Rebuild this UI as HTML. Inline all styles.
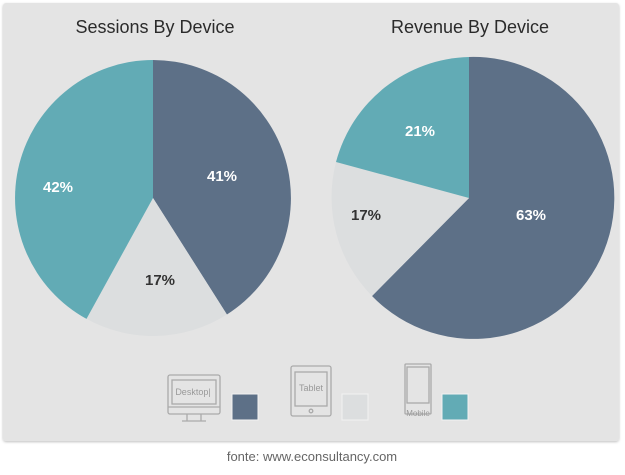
<!DOCTYPE html>
<html><head><meta charset="utf-8"><style>
body{margin:0;width:625px;height:470px;background:#fff;overflow:hidden;font-family:"Liberation Sans",sans-serif}
</style></head><body>
<svg width="625" height="470" xmlns="http://www.w3.org/2000/svg">
<defs><filter id="s" x="-5%" y="-5%" width="110%" height="110%"><feDropShadow dx="0" dy="1" stdDeviation="1.2" flood-color="#000" flood-opacity="0.25"/></filter></defs>
<rect x="3" y="3" width="616" height="438" rx="3" fill="#e4e4e4" filter="url(#s)"/>
<g font-family="'Gill Sans','Liberation Sans',sans-serif" fill="#2b2b2b" font-size="18" text-anchor="middle">
<text x="155" y="33">Sessions By Device</text>
<text x="470" y="33">Revenue By Device</text>
</g>
<path d="M153 198 L153 60 A138 138 0 0 1 226.9 314.5 Z" fill="#5d7087"/>
<path d="M153 198 L226.9 314.5 A138 138 0 0 1 86.5 318.9 Z" fill="#dcdedf"/>
<path d="M153 198 L86.5 318.9 A138 138 0 0 1 153 60 Z" fill="#62abb5"/>
<path d="M469 198 L469 57 A141 141 0 1 1 372 296 Z" fill="#5d7087"/>
<path d="M469 198 L372 296 A141 141 0 0 1 336 162 Z" fill="#dcdedf"/>
<path d="M469 198 L336 162 A141 141 0 0 1 469 57 Z" fill="#62abb5"/>
<g font-weight="bold" font-size="15" text-anchor="middle" fill="#fff">
<text x="222" y="181">41%</text>
<text x="160" y="285" fill="#333">17%</text>
<text x="58" y="192">42%</text>
<text x="420" y="136">21%</text>
<text x="366" y="220" fill="#333">17%</text>
<text x="531" y="220">63%</text>
</g>
<g fill="none" stroke="#aaa" stroke-width="1.3">
<rect x="168" y="375" width="52" height="39" rx="2"/>
<line x1="168" y1="407" x2="220" y2="407"/>
<rect x="172" y="380" width="44" height="24"/>
<path d="M187 414 v7 M201 414 v7 M182 421 h24"/>
<rect x="291" y="366" width="40" height="50" rx="2"/>
<rect x="295" y="372" width="32" height="34"/>
<circle cx="311" cy="411" r="1.8"/>
<rect x="405" y="364" width="26" height="50" rx="1"/>
<rect x="407" y="367" width="22" height="36"/>
</g>
<g fill="#999" font-size="9" text-anchor="middle">
<text x="193" y="395">Desktop|</text>
<text x="311" y="391">Tablet</text>
<text x="418" y="416" font-size="8">Mobile</text>
</g>
<rect x="232" y="394" width="26" height="26" fill="#5d7087" stroke="#f2f2f2"/>
<rect x="342" y="394" width="26" height="26" fill="#dcdedf" stroke="#f2f2f2"/>
<rect x="442" y="394" width="26" height="26" fill="#62abb5" stroke="#f2f2f2"/>
<text x="312" y="461" text-anchor="middle" font-size="13" fill="#666">fonte: www.econsultancy.com</text>
</svg>
</body></html>
